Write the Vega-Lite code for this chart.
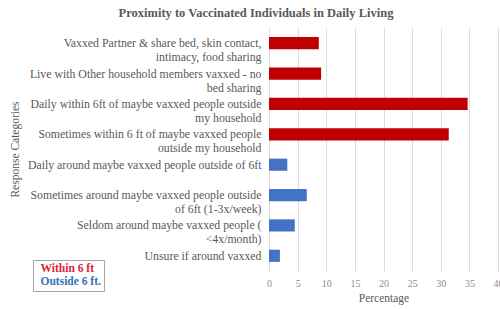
{
  "$schema": "https://vega.github.io/schema/vega-lite/v6.json",
  "autosize": "none",
  "width": 229,
  "height": 243,
  "padding": {"left": 269, "top": 28, "right": 2, "bottom": 38},
  "background": "white",
  "config": {
    "font": "Liberation Serif",
    "view": {"stroke": null}
  },
  "title": {
    "text": "Proximity to Vaccinated Individuals in Daily Living",
    "font": "Liberation Serif",
    "fontSize": 12.5,
    "fontWeight": "bold",
    "color": "#595959",
    "anchor": "middle",
    "frame": "bounds",
    "offset": 9
  },
  "data": {
    "values": [
      {"category": "Vaxxed Partner & share bed, skin contact,|intimacy, food sharing", "group": "Within 6 ft", "pct": 8.7},
      {"category": "Live with Other household members vaxxed - no|bed sharing", "group": "Within 6 ft", "pct": 9.1},
      {"category": "Daily within 6ft of maybe vaxxed people outside|my household", "group": "Within 6 ft", "pct": 34.7},
      {"category": "Sometimes within 6 ft of maybe vaxxed people|outside my household", "group": "Within 6 ft", "pct": 31.4},
      {"category": "Daily around maybe vaxxed people outside of 6ft", "group": "Outside 6 ft.", "pct": 3.2},
      {"category": "Sometimes around maybe vaxxed people outside|of 6ft (1-3x/week)", "group": "Outside 6 ft.", "pct": 6.6},
      {"category": "Seldom around maybe vaxxed people (|<4x/month)", "group": "Outside 6 ft.", "pct": 4.5},
      {"category": "Unsure if around vaxxed", "group": "Outside 6 ft.", "pct": 1.9}
    ]
  },
  "mark": {"type": "bar"},
  "encoding": {
    "y": {
      "field": "category",
      "type": "nominal",
      "sort": null,
      "scale": {"paddingInner": 0.6, "paddingOuter": 0.3},
      "axis": {
        "title": "Response Categories",
        "titleFont": "Liberation Serif",
        "titleFontSize": 11.5,
        "titleFontWeight": "normal",
        "titleColor": "#595959",
        "titleX": -254,
        "titleY": 121,
        "titleAlign": "center",
        "titleBaseline": "middle",
        "titleAngle": 270,
        "labelExpr": "split(datum.label, '|')",
        "labelFont": "Liberation Serif",
        "labelFontSize": 11.8,
        "labelColor": "#595959",
        "labelLineHeight": 14,
        "labelLimit": 400,
        "labelPadding": 8,
        "ticks": false,
        "domain": false
      }
    },
    "x": {
      "field": "pct",
      "type": "quantitative",
      "scale": {"domain": [0, 40]},
      "axis": {
        "title": "Percentage",
        "titleFont": "Liberation Serif",
        "titleFontSize": 11.5,
        "titleFontWeight": "normal",
        "titleColor": "#595959",
        "titlePadding": 4,
        "values": [0, 5, 10, 15, 20, 25, 30, 35, 40],
        "labelFont": "Liberation Serif",
        "labelFontSize": 10,
        "labelColor": "#8c8c8c",
        "labelPadding": 7,
        "labelFlush": false,
        "labelOverlap": false,
        "grid": true,
        "gridColor": "#dcdcdc",
        "ticks": false,
        "domain": false
      }
    },
    "color": {
      "field": "group",
      "type": "nominal",
      "scale": {"domain": ["Within 6 ft", "Outside 6 ft."], "range": ["#c00000", "#4472c4"]},
      "legend": {
        "title": null,
        "orient": "none",
        "legendX": -236,
        "legendY": 232,
        "strokeColor": "#a6a6a6",
        "padding": 3,
        "symbolSize": 0,
        "symbolOpacity": 0,
        "symbolStrokeWidth": 0,
        "labelOffset": -7,
        "labelFont": "Liberation Serif",
        "labelFontSize": 11.5,
        "labelFontWeight": "bold",
        "rowPadding": 0,
        "encode": {
          "labels": {
            "update": {
              "fill": {"signal": "datum.value === 'Within 6 ft' ? '#d9263a' : '#2e75b6'"}
            }
          }
        }
      }
    }
  }
}
